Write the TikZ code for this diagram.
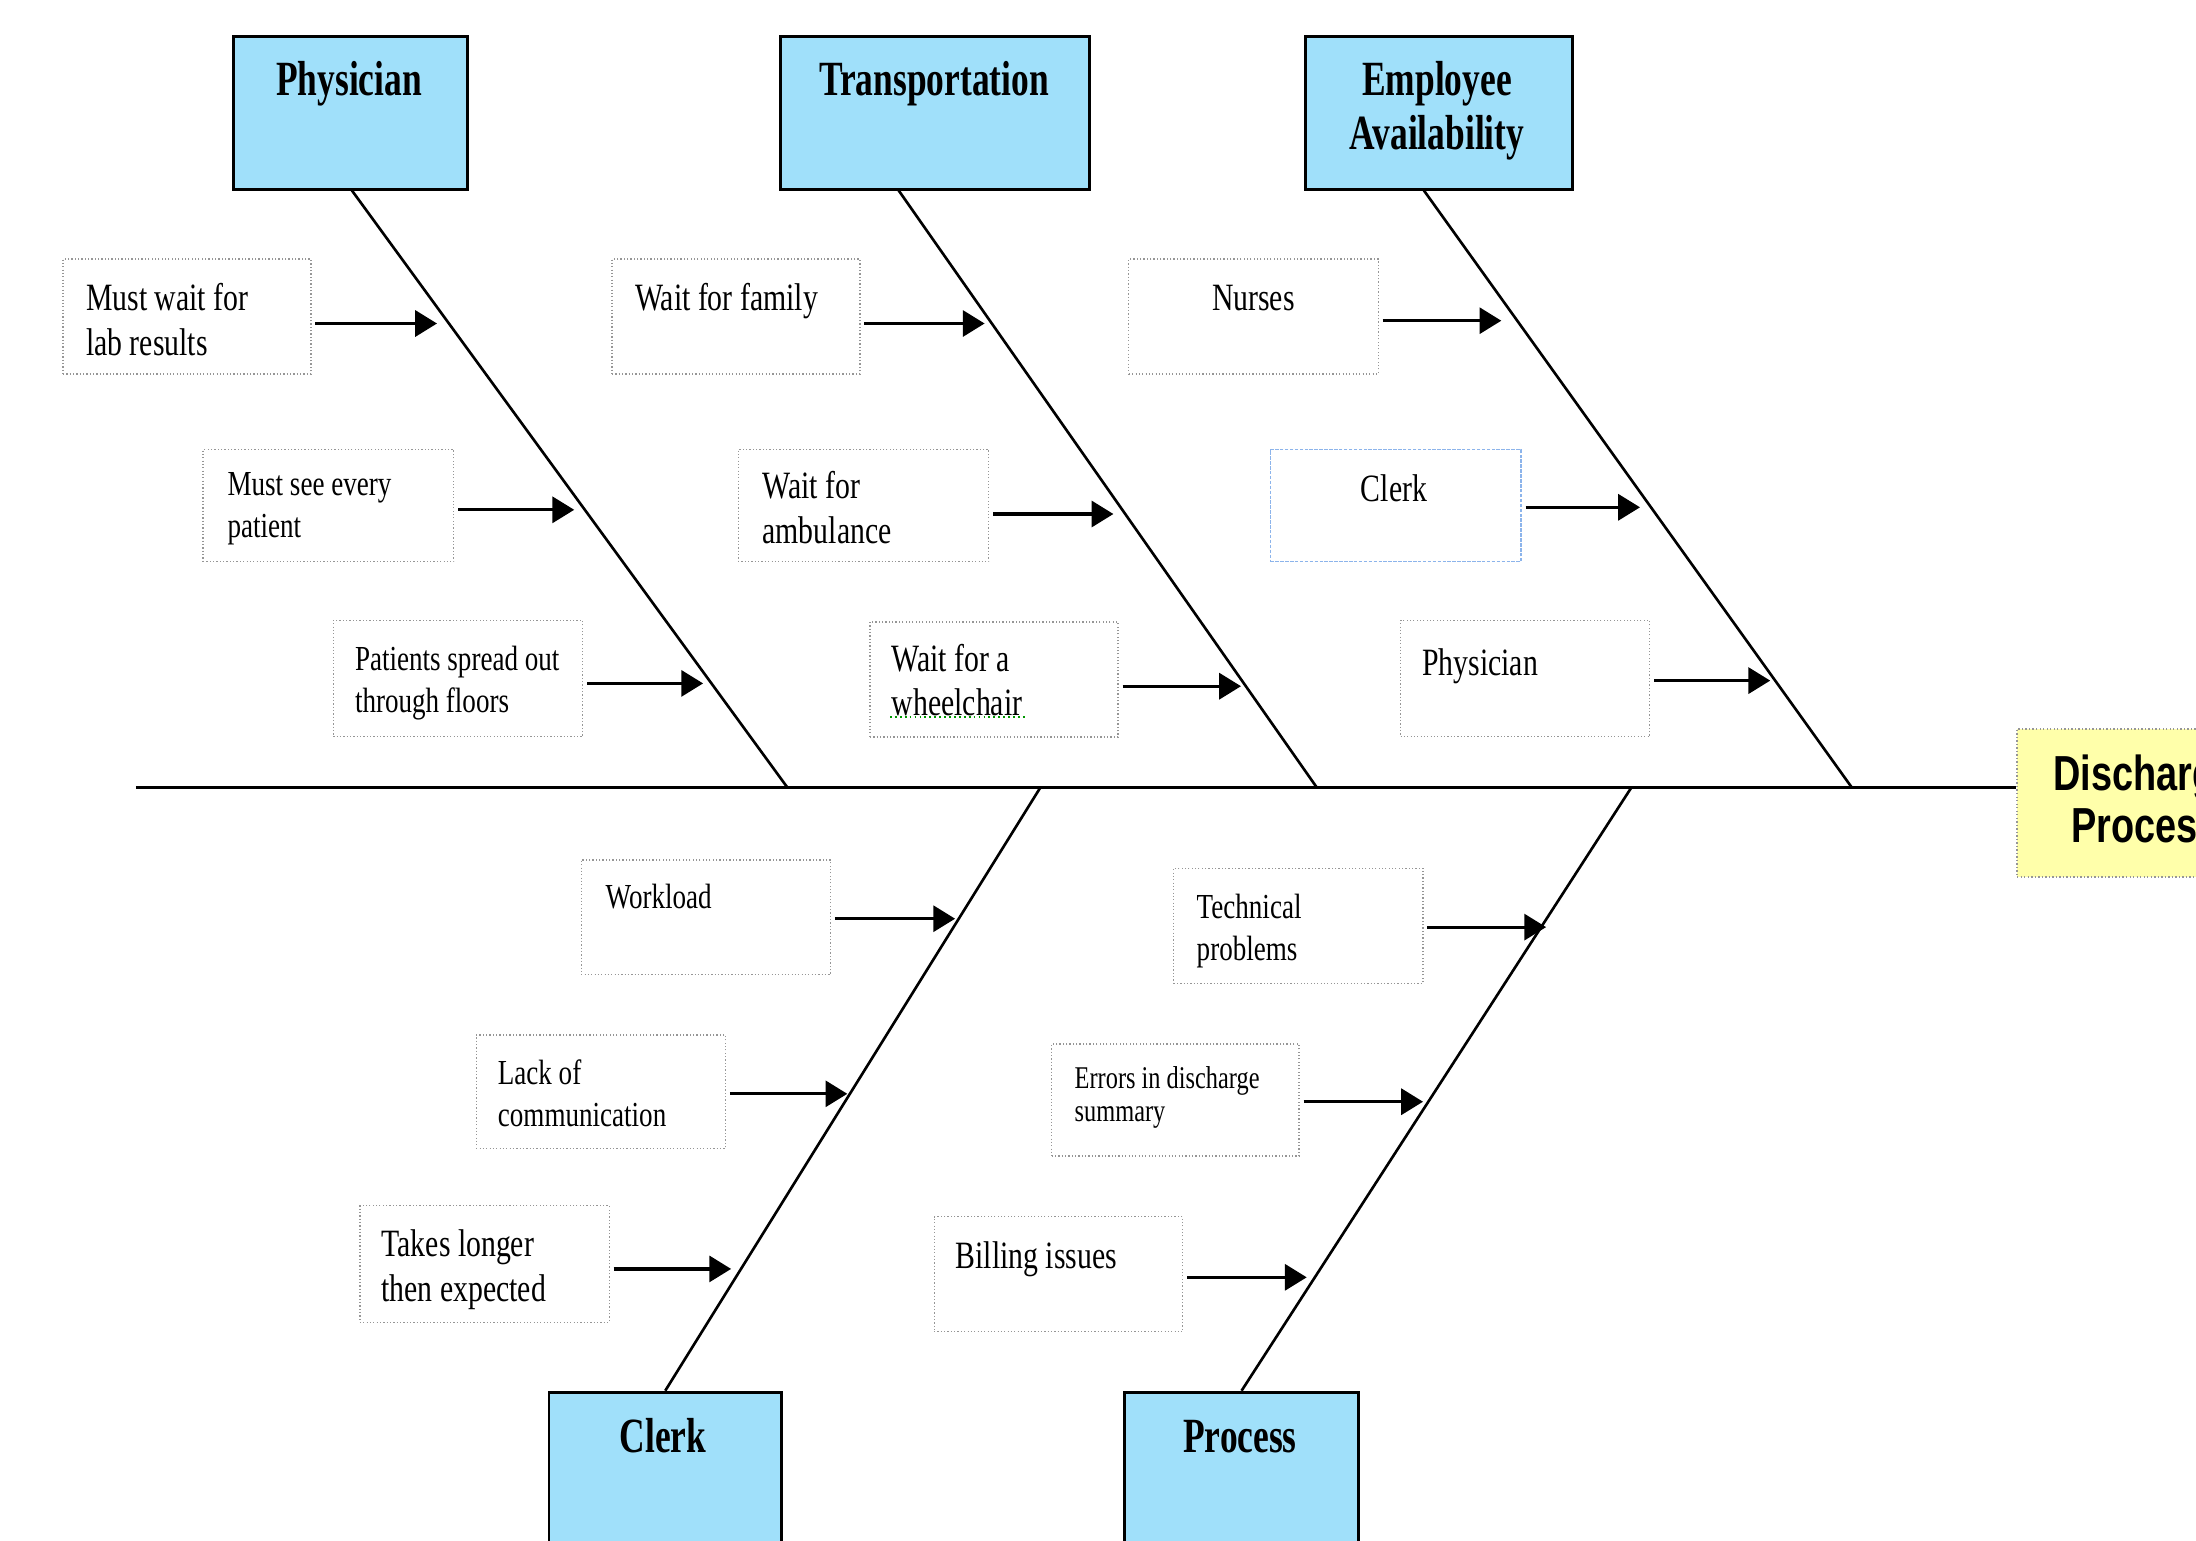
\documentclass[tikz,border=0pt]{standalone}
\usepackage{fontspec}
\setmainfont{Liberation Serif}
\newfontfamily\cs[FakeStretch=0.77]{Liberation Serif}
\newfontfamily\hd[FakeStretch=0.72]{Liberation Serif}
\newfontfamily\ds[FakeStretch=0.77]{Liberation Sans}
\usetikzlibrary{arrows.meta,fit}
\definecolor{hdblue}{RGB}{160,224,250}
\definecolor{dsyellow}{RGB}{255,255,170}
\definecolor{dotgray}{RGB}{150,150,150}
\definecolor{clerkblue}{RGB}{140,180,235}
\definecolor{spellgreen}{RGB}{0,150,0}
\newcommand\twoline[2]{\begin{tabular}[t]{@{}l@{}}#1\\#2\end{tabular}}
\newcommand\twolinec[2]{\begin{tabular}[t]{@{}c@{}}#1\\#2\end{tabular}}
\tikzset{
  hdbox/.style={draw=black, line width=0.8pt, fill=hdblue, inner sep=0pt},
  dsbox/.style={draw=dotgray, line width=0.4pt, dash pattern=on 0.4pt off 0.6pt, fill=dsyellow, inner sep=0pt},
  causebox/.style={draw=dotgray, line width=0.35pt, dash pattern=on 0.35pt off 0.6pt, inner sep=0pt},
  bluebox/.style={draw=clerkblue, line width=0.4pt, dash pattern=on 1pt off 0.4pt, inner sep=0pt},
  bone/.style={draw=black, line width=0.75pt},
  arr/.style={draw=black, line width=0.9pt, -{Triangle[length=6.2pt,width=7.4pt]}, shorten <=1.1pt},
  tA/.style={anchor=base west, inner sep=0pt, font=\cs\fontsize{11}{12.75}\selectfont},
  tB/.style={anchor=base west, inner sep=0pt, font=\cs\fontsize{10}{12}\selectfont},
  tC/.style={anchor=base west, inner sep=0pt, font=\cs\fontsize{9}{9.5}\selectfont},
  tAc/.style={anchor=base, inner sep=0pt, font=\cs\fontsize{11}{12.75}\selectfont},
  hdtext/.style={anchor=base, inner sep=0pt, font=\hd\bfseries\fontsize{14}{15.5}\selectfont},
  dstext/.style={anchor=base, inner sep=0pt, font=\ds\bfseries\fontsize{14}{15}\selectfont},
}
\begin{document}
\begin{tikzpicture}[x=0.1mm, y=-0.1mm]
\useasboundingbox (0,0) rectangle (2196,1540);
\clip (0,0) rectangle (2196,1540);
\fill[white] (0,0) rectangle (2196,1540);

% category boxes
\node[hdbox, fit={(233.9,36.4) (467.8,189.1)}] (Pbox) {};
\node[hdbox, fit={(780.1,36.4) (1089.6,189.1)}] (Tbox) {};
\node[hdbox, fit={(1305.3,36.4) (1572.8,189.1)}] (Ebox) {};
\node[hdbox, fit={(549,1392.1) (781.5,1620)}] (Cbox) {};
\node[hdbox, fit={(1124.6,1392.1) (1358.5,1620)}] (Rbox) {};
\node[dsbox, fit={(2017,729) (2273,877)}] (dis) {};

\node[hdtext] (Pt) at (349,95) {Physician};
\node[hdtext] (Tt) at (934,95) {Transportation};
\node[hdtext] (Et) at (1437,95) {\twolinec{Employee}{Availability}};
\node[hdtext] (Ct) at (663,1452) {Clerk};
\node[hdtext] (Rt) at (1240,1452) {Process};
\node[dstext] (dst) at (2145,790) {\twolinec{Discharge}{Process}};

% spine and bones
\coordinate (spL) at (135.8,787.1);
\coordinate (Ptop) at (350.9,189.1);
\coordinate (Pbot) at (787.1,787.1);
\coordinate (Ttop) at (897.7,189.1);
\coordinate (Tbot) at (1316.5,787.1);
\coordinate (Etop) at (1422.9,189.1);
\coordinate (Ebot) at (1851.5,787.1);
\coordinate (Csp) at (1040.6,787.1);
\coordinate (Rsp) at (1631.6,787.1);
\draw[bone, line width=0.85pt] (spL) -- (spL -| dis.west);
\draw[bone] (Ptop) -- (Pbot);
\draw[bone] (Ttop) -- (Tbot);
\draw[bone] (Etop) -- (Ebot);
\draw[bone] (Csp) -- (Cbox.north);
\draw[bone] (Rsp) -- (Rbox.north);

% cause boxes
\node[causebox, fit={(63.0,259.1) (310.9,373.9)}] (b1) {};
\node[causebox, fit={(203.1,449.6) (453.8,561.6)}] (b2) {};
\node[causebox, fit={(333.3,620.4) (582.6,736.7)}] (b3) {};
\node[causebox, fit={(612.0,259.1) (859.9,373.9)}] (b4) {};
\node[causebox, fit={(738.1,449.6) (988.8,561.6)}] (b5) {};
\node[causebox, fit={(870,622) (1118,737)}] (b6) {};
\node[causebox, fit={(1128.8,259.1) (1378.1,373.9)}] (b7) {};
\node[bluebox, fit={(1270.3,449.6) (1521.0,561.6)}] (b8) {};
\node[causebox, fit={(1400.5,620.4) (1649.8,736.7)}] (b9) {};
\node[causebox, fit={(581.2,859.9) (830.5,974.7)}] (b10) {};
\node[causebox, fit={(476.2,1035.0) (725.5,1148.4)}] (b11) {};
\node[causebox, fit={(359.9,1205.8) (609.2,1322.1)}] (b12) {};
\node[causebox, fit={(1173.6,868.3) (1422.9,983.2)}] (b13) {};
\node[causebox, fit={(1051.7,1044) (1299,1156)}] (b14) {};
\node[causebox, fit={(934.1,1216.7) (1182.7,1331.7)}] (b15) {};

% cause texts
\node[tA] (c1) at (85.4,310.9) {\twoline{Must wait for}{lab results}};
\node[tB] (c2) at (226.9,495.8) {\twoline{Must see every}{patient}};
\node[tB] (c3) at (354.3,670.8) {\twoline{Patients spread out}{through floors}};
\node[tA] (c4) at (634.4,310.9) {Wait for family};
\node[tA] (c5) at (761.9,498.6) {\twoline{Wait for}{ambulance}};
\node[tA] (c6) at (891,671) {\twoline{Wait for a}{wheelchair}};
\node[tAc] (c7) at (1253.4,310.9) {Nurses};
\node[tAc] (c8) at (1394,501.7) {Clerk};
\node[tA] (c9) at (1421.5,675) {Physician};
\node[tB] (c10) at (605,908.9) {Workload};
\node[tB] (c11) at (497.2,1084) {\twoline{Lack of}{communication}};
\node[tA] (c12) at (380.9,1256.2) {\twoline{Takes longer}{then expected}};
\node[tB] (c13) at (1196,918.7) {\twoline{Technical}{problems}};
\node[tC] (c14) at (1074,1088.3) {\twoline{Errors in discharge}{summary}};
\node[tA] (c15) at (955.1,1268.3) {Billing issues};

% spell-check underline
\coordinate (ulA) at (890,717);
\coordinate (ulB) at (1025,717);
\draw[spellgreen, line width=0.5pt, dash pattern=on 0.5pt off 0.9pt] (ulA) -- (ulB);

% arrow tips
\coordinate (t1) at (437.0,323.5);
\coordinate (t2) at (574.2,509.8);
\coordinate (t3) at (703.1,683.4);
\coordinate (t4) at (984.6,323.5);
\coordinate (t5) at (1113.4,514.0);
\coordinate (t6) at (1241,686.2);
\coordinate (t7) at (1501.3,320.7);
\coordinate (t8) at (1640,507.3);
\coordinate (t9) at (1770.2,680.6);
\coordinate (t10) at (955.1,918.7);
\coordinate (t11) at (847.3,1093.8);
\coordinate (t12) at (731.1,1268.9);
\coordinate (t13) at (1546.1,927.1);
\coordinate (t14) at (1423,1101.7);
\coordinate (t15) at (1306.7,1277.3);
\foreach \i in {1,...,15} {
  \draw[arr] (b\i.east |- t\i) -- (t\i);
}
\end{tikzpicture}
\end{document}
